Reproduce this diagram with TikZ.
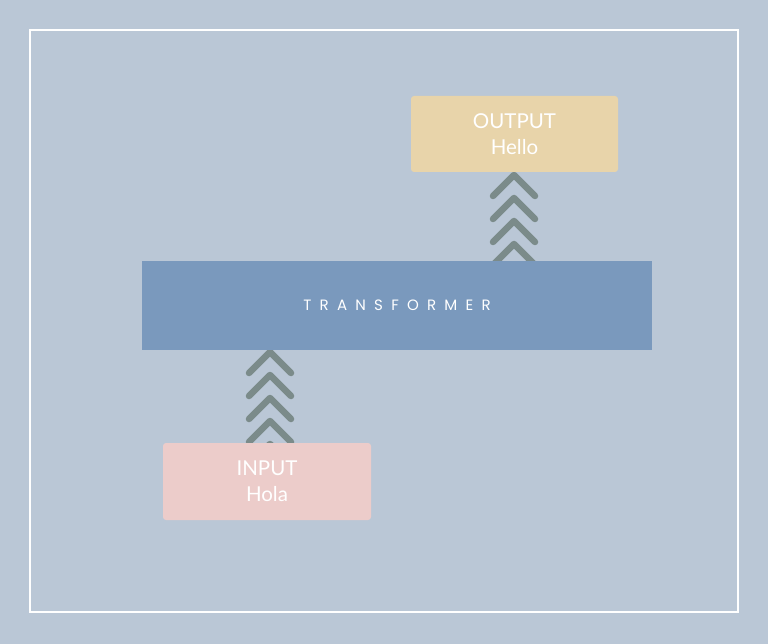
\documentclass[tikz,border=0pt]{standalone}
\usepackage{fontspec}
\usetikzlibrary{calc}
\setmainfont{Lato}
\newfontfamily\popfont{Poppins}
\definecolor{bgc}{HTML}{BAC7D6}
\definecolor{outc}{HTML}{E8D4AA}
\definecolor{inc}{HTML}{ECCCCA}
\definecolor{trc}{HTML}{7A99BD}
\definecolor{chevc}{HTML}{7B8B8A}
\begin{document}
\begin{tikzpicture}[x=1pt,y=-1pt,
  box/.style={draw=none,rounded corners=3pt,inner sep=0pt,align=center,text=white,font=\fontsize{20.5}{26}\selectfont},
  chev/.style={draw=chevc,line width=6.5pt,line cap=round,line join=round}]
\useasboundingbox (0,0) rectangle (768,644);
\fill[bgc] (0,0) rectangle (768,644);
\draw[white,line width=1.2pt] (30,30) rectangle (738,612);
% chevrons (drawn first so boxes cover them)
\coordinate (ca) at (514,175);
\coordinate (cb) at (270,352);
\foreach \k in {0,1,2,3,4}{
  \draw[chev] ($(ca)+(-21,21+23*\k)$) -- ($(ca)+(0,23*\k)$) -- ($(ca)+(21,21+23*\k)$);
  \draw[chev] ($(cb)+(-21,21+23*\k)$) -- ($(cb)+(0,23*\k)$) -- ($(cb)+(21,21+23*\k)$);
}
\node[box,fill=outc,minimum width=207pt,minimum height=76pt] (out) at (514.5,134) {OUTPUT\\Hello};
\node[box,fill=trc,rounded corners=0pt,minimum width=510pt,minimum height=89pt] (tr) at (397,305.5)
  {\popfont\fontsize{15}{17}\selectfont\addfontfeature{LetterSpace=55}TRANSFORMER};
\node[box,fill=inc,minimum width=208pt,minimum height=77pt] (inp) at (267,481.5) {INPUT\\Hola};
\end{tikzpicture}
\end{document}
